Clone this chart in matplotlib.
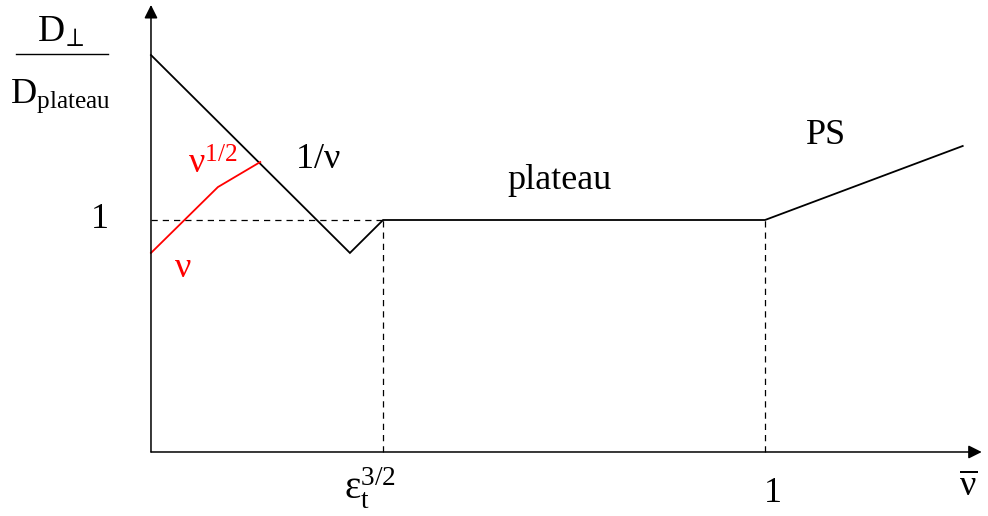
import matplotlib
matplotlib.use("Agg")
import matplotlib.pyplot as plt

plt.rcParams["font.family"] = ["Liberation Serif", "DejaVu Serif"]
plt.rcParams["mathtext.fontset"] = "custom"
plt.rcParams["mathtext.rm"] = "Liberation Serif"
plt.rcParams["mathtext.it"] = "Liberation Serif"
plt.rcParams["mathtext.bf"] = "Liberation Serif:bold"

# schematic D_perp / D_plateau versus collisionality (arbitrary units)
eps_pos = 0.378          # nu = eps_t^{3/2}
ps_pos = 1.0             # nu = 1
level = 1.0              # plateau level

black_x = [0.0, 0.324, eps_pos, ps_pos, 1.322]
black_y = [1.711, 0.858, level, level, 1.319]

red_x = [0.0, 0.109, 0.178]
red_y = [0.858, 1.142, 1.25]

x_top = 1.353
y_top = 1.927

fig = plt.figure(figsize=(9.88, 5.16), dpi=100)
ax = fig.add_axes([0, 0, 1, 1])
ax.set_xlim(-0.2459, 1.3632)
ax.set_ylim(-0.2759, 1.9483)
ax.axis("off")

# axes with arrow heads
arrow = dict(arrowstyle="-|>", mutation_scale=20, lw=1.1, color="black",
             shrinkA=0, shrinkB=0)
ax.annotate("", xy=(x_top, 0), xytext=(0, 0), arrowprops=arrow)
ax.annotate("", xy=(0, y_top), xytext=(0, 0), arrowprops=arrow)

# guide lines
dash = dict(color="black", lw=0.9, dashes=(5, 4))
ax.plot([0, eps_pos], [level, level], **dash)
ax.plot([eps_pos, eps_pos], [0, level], **dash)
ax.plot([ps_pos, ps_pos], [0, level], **dash)

ax.plot(black_x, black_y, color="black", lw=1.3, solid_joinstyle="miter")
ax.plot(red_x, red_y, color="#ff0000", lw=1.3)

fs = 26
ax.text(-0.083, 1.0, "1", fontsize=fs, ha="center", va="center")
ax.text(0.272, 1.259, r"$\mathrm{1/\nu}$", fontsize=fs, ha="center", va="center")
ax.text(0.666, 1.172, "plateau", fontsize=fs, ha="center", va="center")
ax.text(1.099, 1.366, "PS", fontsize=fs, ha="center", va="center")
ax.text(0.101, 1.237, r"$\mathrm{\nu}^{1/2}$", fontsize=fs, color="#ff0000",
        ha="center", va="center")
ax.text(0.052, 0.793, r"$\mathrm{\nu}$", fontsize=fs, color="#ff0000",
        ha="center", va="center")

ax.text(0.357, -0.155, r"$\mathrm{ε}_\mathrm{t}^{3/2}$", fontsize=fs + 2,
        ha="center", va="center")
ax.text(1.013, -0.181, "1", fontsize=fs, ha="center", va="center")
ax.text(1.331, -0.151, r"$\overline{\mathrm{\nu}}$", fontsize=fs,
        ha="center", va="center")

# y label as a stacked fraction
ax.text(-0.148, 1.770, r"$\mathrm{D}_{\!\perp}$", fontsize=fs + 1,
        ha="center", va="baseline")
ax.plot([-0.220, -0.070], [1.716, 1.716], color="black", lw=1.0, clip_on=False)
ax.text(-0.148, 1.504, r"$\mathrm{D}_\mathrm{plateau}$", fontsize=fs,
        ha="center", va="baseline")

fig.savefig("out.png", dpi=100)
